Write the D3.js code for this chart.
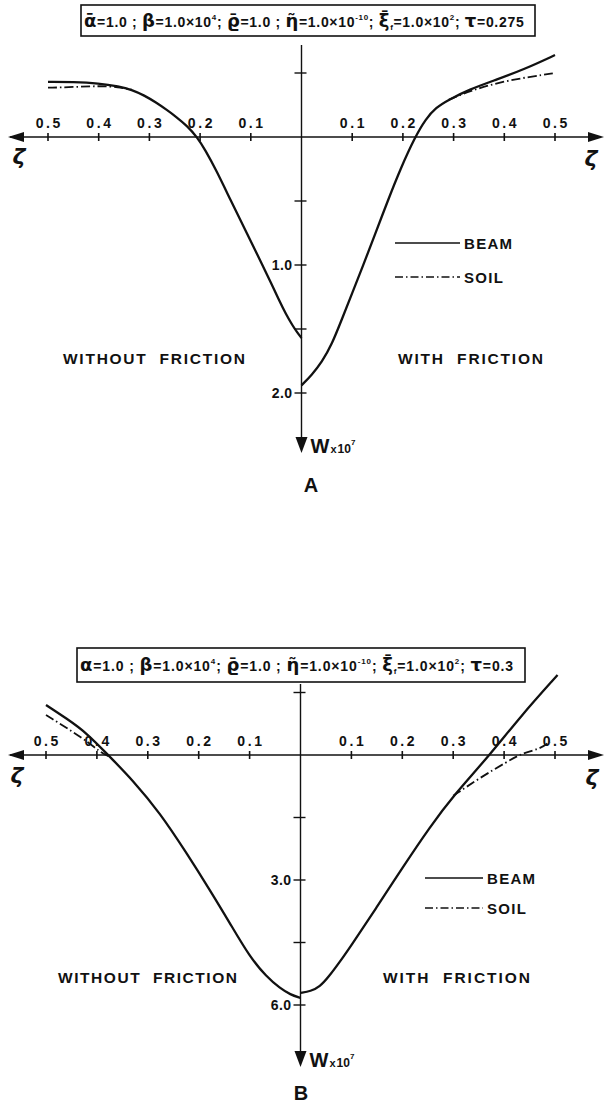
<!DOCTYPE html>
<html><head><meta charset="utf-8">
<script src="https://cdn.jsdelivr.net/npm/d3@7"></script>
<style>
html,body{margin:0;padding:0;background:#fff;}
svg{display:block;}
text{font-family:"Liberation Sans",Arial,sans-serif;font-weight:bold;fill:#111;}
</style></head><body>
<svg id="chart" width="605" height="1103"></svg>
<script>
// ---- shared axis labels ----
const zetaTicks = [0.1, 0.2, 0.3, 0.4, 0.5];
const zetaTickLabels = ["0.1", "0.2", "0.3", "0.4", "0.5"];
const legendNames = ["BEAM", "SOIL"];
const sideLabels = ["WITHOUT FRICTION", "WITH FRICTION"];

// ---- panel A (tau = 0.275) ----
const wTicksA = [-0.5, 0.5, 1.0, 1.5, 2.0];
const wLabelsA = [1.0, 2.0];
// [zeta, W x 1e7]; the "without friction" side is drawn to the left of the origin
const beamWithoutA = [[0.5,-0.43],[0.45,-0.43],[0.40,-0.42],[0.36,-0.395],[0.335,-0.37],[0.31,-0.325],
  [0.287,-0.27],[0.265,-0.21],[0.248,-0.16],[0.225,-0.085],[0.206,0.0],[0.19,0.1],[0.168,0.26],[0.139,0.5],
  [0.108,0.75],[0.077,1.0],[0.06,1.14],[0.045,1.27],[0.03,1.39],[0.018,1.47],[0.008,1.53],[0.0,1.57]];
const soilWithoutA = [[0.5,-0.385],[0.45,-0.39],[0.40,-0.40],[0.36,-0.39],[0.335,-0.37]];
const beamWithA = [[0.0,1.94],[0.02,1.86],[0.04,1.76],[0.06,1.62],[0.08,1.42],[0.10,1.22],[0.121,1.01],
  [0.145,0.76],[0.17,0.5],[0.195,0.25],[0.224,0.0],[0.245,-0.14],[0.265,-0.23],[0.29,-0.29],[0.33,-0.37],
  [0.386,-0.45],[0.44,-0.53],[0.5,-0.64]];
const soilWithA = [[0.29,-0.29],[0.332,-0.36],[0.392,-0.43],[0.45,-0.47],[0.5,-0.50]];
const headerA = [["g","ᾱ"],["n","=1.0 ; "],["g","β"],["n","=1.0×10"],["sup","4"],["n","; "],["g","ϱ̄"],
  ["n","=1.0 ; "],["g","η̃"],["n","=1.0×10"],["sup","-10"],["n","; "],["g","ξ̄"],["sub","f"],
  ["n","=1.0×10"],["sup","2"],["n","; "],["g","τ"],["n","=0.275"]];

// ---- panel B (tau = 0.3) ----
const wTicksB = [-1.5, 1.5, 3.0, 4.5, 6.0];
const wLabelsB = [3.0, 6.0];
const beamWithoutB = [[0.5,-1.2],[0.46,-0.88],[0.42,-0.53],[0.374,0.05],[0.33,0.6],[0.276,1.39],[0.224,2.35],
  [0.178,3.24],[0.139,4.03],[0.1,4.84],[0.067,5.32],[0.04,5.6],[0.02,5.75],[0.0,5.83]];
const soilWithoutB = [[0.5,-0.96],[0.424,-0.38],[0.394,-0.07],[0.374,0.05]];
const beamWithB = [[0.0,5.71],[0.02,5.67],[0.038,5.56],[0.055,5.33],[0.078,4.95],[0.097,4.62],[0.150,3.65],
  [0.201,2.69],[0.254,1.73],[0.300,0.98],[0.372,0.0],[0.431,-0.91],[0.505,-1.92]];
const soilWithB = [[0.300,0.98],[0.352,0.55],[0.405,0.17],[0.436,-0.05],[0.47,-0.14],[0.49,-0.32]];
const headerB = [["g","α"],["n","=1.0 ; "],["g","β"],["n","=1.0×10"],["sup","4"],["n","; "],["g","ϱ̄"],
  ["n","=1.0 ; "],["g","η̃"],["n","=1.0×10"],["sup","-10"],["n","; "],["g","ξ̄"],["sub","f"],
  ["n","=1.0×10"],["sup","2"],["n","; "],["g","τ"],["n","=0.3"]];

const svg = d3.select("#chart");
svg.append("rect").attr("width", 605).attr("height", 1103).attr("fill", "#fff");

const INK = "#111";
const SOIL_DASH = "9,3,1.5,3";

// spread a text element's letters so it spans the requested width
function fitWidth(sel, target) {
  const node = sel.node();
  const n = node.getNumberOfChars();
  const w = node.getBBox().width;
  if (n > 1) sel.attr("letter-spacing", (target - w) / (n - 1));
}

function drawHeader(g, segs, box, baseline) {
  g.append("rect").attr("x", box[0]).attr("y", box[1]).attr("width", box[2] - box[0])
    .attr("height", box[3] - box[1]).attr("fill", "none").attr("stroke", INK).attr("stroke-width", 1.6);
  const t = g.append("text").attr("x", box[0] + 3).attr("y", baseline);
  let shift = 0;
  segs.forEach(([k, s]) => {
    const sp = t.append("tspan").text(s);
    let target = 0, size = 14, fam = null;
    if (k === "g") { size = 18; fam = "DejaVu Sans"; }
    if (k === "sup") { size = 8; target = -7; }
    if (k === "sub") { size = 8; target = 3; }
    sp.attr("font-size", size).attr("dy", target - shift);
    if (fam) sp.style("font-family", fam);
    shift = target;
  });
  fitWidth(t, box[2] - box[0] - 12);
}

function drawPanel(cfg) {
  const g = svg.append("g");
  const x = d3.scaleLinear().domain([-0.5, 0.5]).range(cfg.xRange);
  const y = d3.scaleLinear().domain(cfg.wDomain).range(cfg.yRange);
  const x0 = x(0), y0 = y(0);

  drawHeader(g, cfg.header, cfg.box, cfg.headerBaseline);

  // horizontal zeta axis with arrowheads at both ends
  g.append("line").attr("x1", 10).attr("x2", 600).attr("y1", y0).attr("y2", y0)
    .attr("stroke", INK).attr("stroke-width", 1.4);
  g.append("path").attr("d", `M8,${y0} L24,${y0-5} L24,${y0+5} Z`).attr("fill", INK);
  g.append("path").attr("d", `M604,${y0} L588,${y0-5} L588,${y0+5} Z`).attr("fill", INK);

  [-1, 1].forEach(s => {
    zetaTicks.forEach((t, i) => {
      const px = x(s * t);
      g.append("line").attr("x1", px).attr("x2", px).attr("y1", y0 - 4).attr("y2", y0 + 4)
        .attr("stroke", INK).attr("stroke-width", 1.6);
      g.append("text").attr("x", px + 1.3).attr("y", y0 - 9).attr("text-anchor", "middle")
        .attr("font-size", 14).attr("letter-spacing", 2.6).text(zetaTickLabels[i]);
    });
  });
  [cfg.zetaLeft, cfg.zetaRight].forEach(p => {
    g.append("text").attr("x", p[0]).attr("y", p[1]).attr("text-anchor", "middle")
      .style("font-family", "DejaVu Sans").style("font-style", "italic").attr("font-size", 22).text("ζ");
  });

  // vertical W axis pointing downward
  g.append("line").attr("x1", x0).attr("x2", x0).attr("y1", cfg.axisTop).attr("y2", cfg.arrowTip - 10)
    .attr("stroke", INK).attr("stroke-width", 1.4);
  g.append("path").attr("d", `M${x0},${cfg.arrowTip} L${x0-6},${cfg.arrowTip-16} L${x0+6},${cfg.arrowTip-16} Z`)
    .attr("fill", INK);
  cfg.wTicks.forEach(t => {
    g.append("line").attr("x1", x0 - 7).attr("x2", x0 + 5).attr("y1", y(t)).attr("y2", y(t))
      .attr("stroke", INK).attr("stroke-width", 1.4);
  });
  cfg.wLabels.forEach(t => {
    g.append("text").attr("x", x0 - 9).attr("y", y(t) + 5).attr("text-anchor", "end")
      .attr("font-size", 14).attr("letter-spacing", 0.4).text(d3.format(".1f")(t));
  });
  const wl = g.append("text").attr("x", x0 + 9).attr("y", cfg.arrowTip);
  wl.append("tspan").attr("font-size", 20).text("W");
  wl.append("tspan").attr("font-size", 11).attr("dx", 1).text("x");
  wl.append("tspan").attr("font-size", 12).attr("dx", 1).text("10");
  wl.append("tspan").attr("font-size", 8).attr("dy", -8).text("7");

  g.append("text").attr("x", cfg.letterPos[0]).attr("y", cfg.letterPos[1]).attr("text-anchor", "middle")
    .attr("font-size", 20).text(cfg.letter);

  // curves
  const line = d3.line().x(d => x(d[0])).y(d => y(d[1])).curve(d3.curveBasis);
  const mirror = arr => arr.map(([z, w]) => [-z, w]);
  const curves = [
    [mirror(cfg.soilWithout), true], [cfg.soilWith, true],
    [mirror(cfg.beamWithout), false], [cfg.beamWith, false]
  ];
  curves.forEach(([data, soil]) => {
    g.append("path").attr("d", line(data)).attr("fill", "none").attr("stroke", INK)
      .attr("stroke-width", soil ? 1.8 : 2.3).attr("stroke-dasharray", soil ? SOIL_DASH : null)
      .attr("stroke-linecap", "butt");
  });

  // legend
  legendNames.forEach((name, i) => {
    const ly = cfg.legend[1] + i * cfg.legend[4];
    g.append("line").attr("x1", cfg.legend[0]).attr("x2", cfg.legend[2]).attr("y1", ly).attr("y2", ly)
      .attr("stroke", INK).attr("stroke-width", 1.7).attr("stroke-dasharray", i ? "8,3,1.5,3" : null);
    g.append("text").attr("x", cfg.legend[3]).attr("y", ly + 5.5).attr("font-size", 15)
      .attr("letter-spacing", 1.3).text(name);
  });

  // friction-side captions
  sideLabels.forEach((s, i) => {
    const pos = cfg.sides[i];
    const t = g.append("text").attr("x", pos[0]).attr("y", pos[2]).attr("font-size", 15.5)
      .attr("xml:space", "preserve").text(s.replace(" ", "  "));
    fitWidth(t, pos[1] - pos[0]);
  });
}

drawPanel({
  xRange: [48, 555], wDomain: [0, 2], yRange: [137, 393],
  header: headerA, box: [81, 5, 535, 36], headerBaseline: 27,
  zetaLeft: [19, 164], zetaRight: [591, 166],
  axisTop: 45, arrowTip: 453, wTicks: wTicksA, wLabels: wLabelsA,
  letter: "A", letterPos: [311, 492],
  beamWithout: beamWithoutA, soilWithout: soilWithoutA, beamWith: beamWithA, soilWith: soilWithA,
  legend: [395, 243, 460, 464, 34],
  sides: [[63, 245, 364], [398, 543, 364]]
});

drawPanel({
  xRange: [46, 555], wDomain: [0, 6], yRange: [755, 1005],
  header: headerB, box: [77, 648, 525, 682], headerBaseline: 671,
  zetaLeft: [17, 783], zetaRight: [592, 785],
  axisTop: 684, arrowTip: 1067, wTicks: wTicksB, wLabels: wLabelsB,
  letter: "B", letterPos: [301, 1100],
  beamWithout: beamWithoutB, soilWithout: soilWithoutB, beamWith: beamWithB, soilWith: soilWithB,
  legend: [425, 878, 483, 487, 30],
  sides: [[58, 237, 983], [383, 530, 983]]
});
</script>
</body></html>
